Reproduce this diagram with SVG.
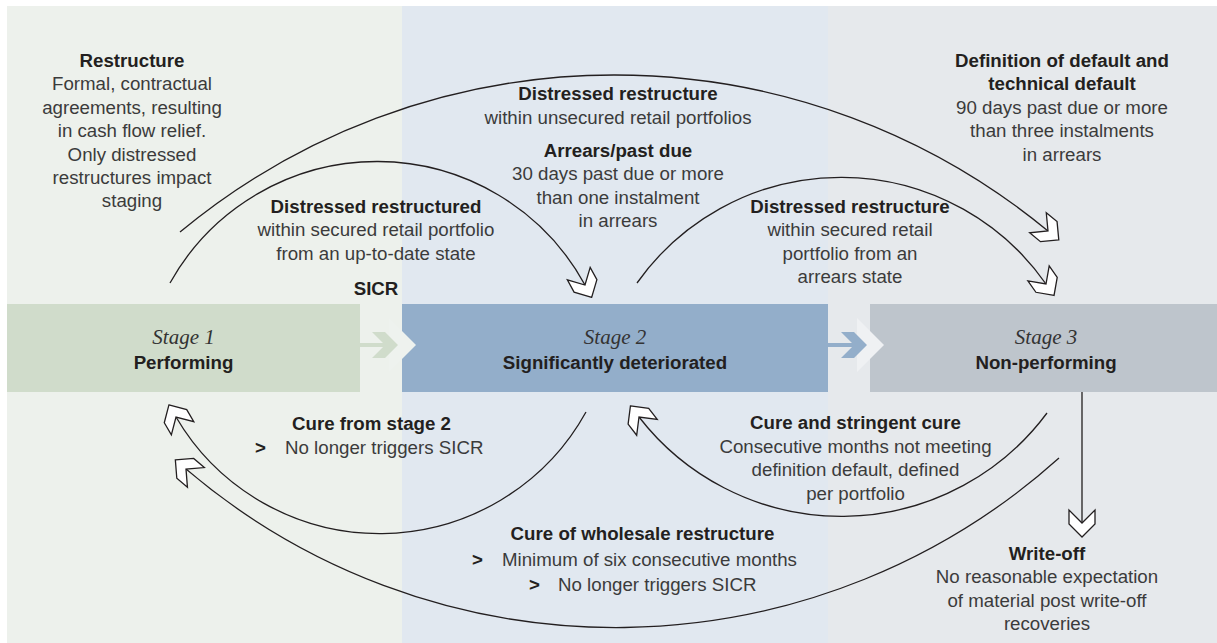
<svg xmlns="http://www.w3.org/2000/svg" width="1217" height="643" viewBox="0 0 1217 643">
  <defs>
    <style>
      .t { font-family: "Liberation Sans", Arial, sans-serif; font-size: 18.7px; fill: #3b3b3b; text-anchor: middle; }
      .b { font-weight: bold; fill: #231f20; }
      .st { font-family: "Liberation Serif", "Times New Roman", serif; font-style: italic; font-size: 21px; fill: #333333; text-anchor: middle; }
      .sn { font-family: "Liberation Sans", Arial, sans-serif; font-weight: bold; font-size: 18.7px; fill: #231f20; text-anchor: middle; }
      .gt { font-family: "Liberation Sans", Arial, sans-serif; font-weight: bold; font-size: 18.7px; fill: #231f20; }
      .tl { font-family: "Liberation Sans", Arial, sans-serif; font-size: 18.7px; fill: #3b3b3b; }
      .arc { fill: none; stroke: #231f20; stroke-width: 1.3; marker-end: url(#chev); }
    </style>
    <marker id="chev" markerUnits="userSpaceOnUse" markerWidth="40" markerHeight="40" refX="0" refY="0" orient="auto" overflow="visible">
      <path d="M14,0 L1,13 L-13,13 L0,0 L-13,-13 L1,-13 Z" fill="#ffffff" stroke="#231f20" stroke-width="1.3" stroke-linejoin="miter"/>
    </marker>
  </defs>

  <!-- background columns -->
  <rect x="0" y="0" width="1217" height="643" fill="#ffffff"/>
  <rect x="7" y="6" width="395" height="637" fill="#edf1ec"/>
  <rect x="402" y="6" width="426" height="637" fill="#e1e8f0"/>
  <rect x="828" y="6" width="389" height="637" fill="#e6e9ec"/>

  <!-- stage 1 -->
  <g id="stage1">
    <rect x="7" y="304" width="353" height="88" fill="#d0dccb"/>
    <text class="st" x="183.5" y="344">Stage 1</text>
    <text class="sn" x="183.5" y="369">Performing</text>
  </g>

  <!-- stage 2 -->
  <g id="stage2">
    <rect x="402" y="304" width="426" height="88" fill="#93aeca"/>
    <polygon points="389,318 416,345 389,372" fill="#eef2ee"/>
    <text class="st" x="615" y="344">Stage 2</text>
    <text class="sn" x="615" y="369">Significantly deteriorated</text>
  </g>

  <!-- stage 3 -->
  <g id="stage3">
    <rect x="870" y="304" width="347" height="88" fill="#bec5cc"/>
    <polygon points="857,318 884,345 857,372" fill="#eff1f3"/>
    <text class="st" x="1046" y="344">Stage 3</text>
    <text class="sn" x="1046" y="369">Non-performing</text>
  </g>

  <!-- stage-to-stage arrows -->
  <g id="progress-arrows">
    <rect x="360" y="343" width="26" height="4" fill="#d0dccb"/>
    <polygon points="372,332 385,332 398,345 385,358 372,358 385,345" fill="#d0dccb"/>
    <rect x="828" y="343" width="26" height="4" fill="#93aeca"/>
    <polygon points="841,332 854,332 867,345 854,358 841,358 854,345" fill="#93aeca"/>
  </g>

  <!-- transition connectors -->
  <g id="connectors">
    <path class="arc" d="M180,232 A680,680 0 0 1 1048,231"/>
    <path class="arc" d="M170,283 A237,237 0 0 1 585,285"/>
    <path class="arc" d="M637,283 A250,250 0 0 1 1046,284"/>
    <path class="arc" d="M586,412 A236,236 0 0 1 176,417"/>
    <path class="arc" d="M1059,458 A663,663 0 0 1 186,469"/>
    <path class="arc" d="M1047,413 A256,256 0 0 1 639,417"/>
    <path class="arc" d="M1082,392 L1082,523"/>
  </g>

  <!-- labels -->
  <g id="label-restructure">
    <text class="t b" x="132" y="67">Restructure</text>
    <text class="t" x="132" y="90.4">Formal, contractual</text>
    <text class="t" x="132" y="113.8">agreements, resulting</text>
    <text class="t" x="132" y="137.2">in cash flow relief.</text>
    <text class="t" x="132" y="160.6">Only distressed</text>
    <text class="t" x="132" y="184">restructures impact</text>
    <text class="t" x="132" y="207.4">staging</text>
  </g>

  <g id="label-unsecured">
    <text class="t b" x="618" y="100">Distressed restructure</text>
    <text class="t" x="618" y="124">within unsecured retail portfolios</text>
  </g>

  <g id="label-arrears">
    <text class="t b" x="618" y="157">Arrears/past due</text>
    <text class="t" x="618" y="180.4">30 days past due or more</text>
    <text class="t" x="618" y="203.8">than one instalment</text>
    <text class="t" x="618" y="227.2">in arrears</text>
  </g>

  <g id="label-secured-uptodate">
    <text class="t b" x="376" y="213">Distressed restructured</text>
    <text class="t" x="376" y="236.4">within secured retail portfolio</text>
    <text class="t" x="376" y="259.8">from an up-to-date state</text>
    <text class="t b" x="376" y="295">SICR</text>
  </g>

  <g id="label-secured-arrears">
    <text class="t b" x="850" y="213">Distressed restructure</text>
    <text class="t" x="850" y="236.4">within secured retail</text>
    <text class="t" x="850" y="259.8">portfolio from an</text>
    <text class="t" x="850" y="283.2">arrears state</text>
  </g>

  <g id="label-default">
    <text class="t b" x="1062" y="67">Definition of default and</text>
    <text class="t b" x="1062" y="90.4">technical default</text>
    <text class="t" x="1062" y="113.8">90 days past due or more</text>
    <text class="t" x="1062" y="137.2">than three instalments</text>
    <text class="t" x="1062" y="160.6">in arrears</text>
  </g>

  <g id="label-cure-stage2">
    <text class="t b" x="371.5" y="430">Cure from stage 2</text>
    <text class="gt" x="255" y="454">&gt;</text>
    <text class="tl" x="285" y="454">No longer triggers SICR</text>
  </g>

  <g id="label-cure-stringent">
    <text class="t b" x="855.5" y="429.3">Cure and stringent cure</text>
    <text class="t" x="855.5" y="452.7">Consecutive months not meeting</text>
    <text class="t" x="855.5" y="476.1">definition default, defined</text>
    <text class="t" x="855.5" y="499.5">per portfolio</text>
  </g>

  <g id="label-cure-wholesale">
    <text class="t b" x="642.5" y="540">Cure of wholesale restructure</text>
    <text class="gt" x="472" y="566">&gt;</text>
    <text class="tl" x="502" y="566">Minimum of six consecutive months</text>
    <text class="gt" x="529" y="591">&gt;</text>
    <text class="tl" x="558" y="591">No longer triggers SICR</text>
  </g>

  <g id="label-writeoff">
    <text class="t b" x="1047" y="560">Write-off</text>
    <text class="t" x="1047" y="583.4">No reasonable expectation</text>
    <text class="t" x="1047" y="606.8">of material post write-off</text>
    <text class="t" x="1047" y="630.2">recoveries</text>
  </g>
</svg>
